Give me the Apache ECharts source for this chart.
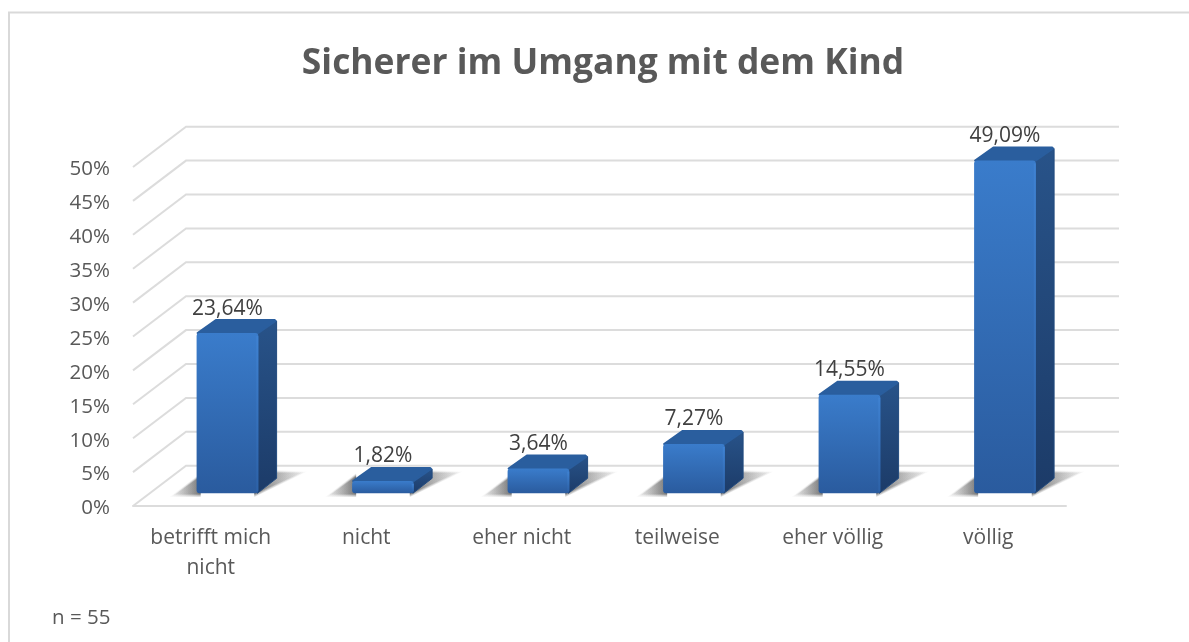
<!DOCTYPE html>
<html><head><meta charset="utf-8">
<style>html,body{margin:0;padding:0;background:#fff}#c{width:1189px;height:642px}</style>
<script src="https://cdn.jsdelivr.net/npm/echarts@6/dist/echarts.min.js"></script>
</head><body><div id="c"></div>
<script>
const categories = ['betrifft mich\nnicht','nicht','eher nicht','teilweise','eher völlig','völlig'];
const values = [23.64,1.82,3.64,7.27,14.55,49.09];
const valueLabels = ['23,64%','1,82%','3,64%','7,27%','14,55%','49,09%'];
const wallTicks = [0,5,10,15,20,25,30,35,40,45,50];

const FONT = '"Open Sans", sans-serif';
const WALL_DX = 53, WALL_DY = 40.3;
const BAR_SHIFT_X = 16.7, BAR_SHIFT_Y = 12.7, BAR_W = 61.7, DEPTH_X = 18.3, DEPTH_Y = 15;
const grad = (a,b)=>new echarts.graphic.LinearGradient(0,0,0,1,[{offset:0,color:a},{offset:1,color:b}]);
const hgrad = (a,b)=>new echarts.graphic.LinearGradient(0,0,1,0,[{offset:0,color:a},{offset:1,color:b}]);

function renderWall(params, api){
  const band = api.size([1,0])[0];
  const p = api.coord([0, api.value(1)]);
  const x0 = p[0]-band/2, y0 = p[1];
  const span = band*categories.length;
  const style = {stroke:'#dcdcdc', lineWidth:2, fill:null};
  return {type:'polyline', shape:{points:[[x0,y0],[x0+WALL_DX,y0-WALL_DY],[x0+WALL_DX+span,y0-WALL_DY]]}, style};
}
function renderShadow(params, api){
  const base = api.coord([api.value(0),0]);
  const x0 = base[0]+BAR_SHIFT_X-BAR_W/2, x1 = x0+BAR_W, y = base[1]-BAR_SHIFT_Y;
  const kids = [];
  // soft edge built from nested translucent wedges
  [[4,0.08],[3,0.09],[2,0.12],[1,0.15],[0,0.22]].forEach(([g,a])=>{
    kids.push({type:'polygon', shape:{points:[[x0-21-g*1.5,y+1+g*0.7],[x0+4,y+1+g*0.7],[x0+4,y-17-g*0.7]]},
      style:{fill:hgrad('rgba(130,130,130,'+(a*0.35)+')','rgba(50,50,50,'+(a*1.5)+')')}});
    kids.push({type:'polygon', shape:{points:[[x1-4,y+1+g*0.7],[x1+43+g*1.5,y-20.5-g*0.3],[x1+12,y-20.5-g*0.7],[x1-4,y-12]]},
      style:{fill:hgrad('rgba(50,50,50,'+(a*1.5)+')','rgba(130,130,130,'+(a*0.25)+')')}});
  });
  return {type:'group', children:kids};
}
function renderBar(params, api){
  const i = api.value(0), v = api.value(1);
  const base = api.coord([i,0]), top = api.coord([i,v]);
  const x0 = base[0]+BAR_SHIFT_X-BAR_W/2, x1 = x0+BAR_W;
  const yb = base[1]-BAR_SHIFT_Y, yt = top[1]-BAR_SHIFT_Y;
  const dx = DEPTH_X, dy = DEPTH_Y;
  return {type:'group', children:[
    {type:'polygon', shape:{points:[[x1-1,yt],[x1+dx,yt-dy+3],[x1+dx,yb-dy],[x1-1,yb]]},
      style:{fill:grad('#285389','#1c3b68'), stroke:'#224a7e', lineWidth:1, lineJoin:'round'}},
    {type:'polygon', shape:{points:[[x0+1,yt],[x0+dx+1,yt-dy+2],[x1+dx-2,yt-dy+2],[x1+dx-1,yt-dy+3],[x1,yt]]},
      style:{fill:'#2a5e9e', stroke:'#2a5e9e', lineWidth:2, lineJoin:'round'}},
    {type:'rect', shape:{x:x0,y:yt,width:BAR_W,height:yb-yt,r:3},
      style:{fill:grad('#3a7ccb','#2a5b9e')}},
    {type:'rect', shape:{x:x1-2,y:yt+3,width:2,height:yb-yt-5},
      style:{fill:grad('#3f82d2','#2d62a8')}},
    {type:'text', style:{x:(x0+x1)/2,y:yt-dy-9.5,text:valueLabels[i],font:'21px '+FONT,fill:'#404040',align:'center',verticalAlign:'middle'}}
  ]};
}

const chart = echarts.init(document.getElementById('c'),null,{renderer:'canvas'});
chart.setOption({
  backgroundColor:'#fff', animation:false,
  title:{text:'Sicherer im Umgang mit dem Kind',left:598,top:59,textAlign:'center',textVerticalAlign:'middle',
    textStyle:{fontFamily:FONT,fontSize:35.4,fontWeight:'bold',color:'#595959'}},
  graphic:[
    {type:'polyline',z:-1,shape:{points:[[9,642],[9,12.5],[1189,12.5]]},style:{fill:null,stroke:'#d9d9d9',lineWidth:2}},
    {type:'text',left:52,top:608,style:{text:'n = 55',font:'20.5px '+FONT,fill:'#595959'}}
  ],
  grid:{left:133,top:167,width:933,height:339},
  xAxis:{type:'category',data:categories,
    axisLine:{lineStyle:{color:'#dcdcdc',width:2}},axisTick:{show:false},splitLine:{show:false},
    axisLabel:{margin:17,lineHeight:30,fontFamily:FONT,fontSize:21,color:'#595959',interval:0}},
  yAxis:{type:'value',min:0,max:50,interval:5,
    axisLine:{show:false},axisTick:{show:false},splitLine:{show:false},
    axisLabel:{margin:23,verticalAlign:'top',lineHeight:5,formatter:'{value}%',fontFamily:FONT,fontSize:20.5,color:'#595959'}},
  series:[
    {type:'custom',name:'wall',clip:false,z:1,silent:true,renderItem:renderWall,data:wallTicks.map(t=>[0,t])},
    {type:'custom',name:'shadow',clip:false,z:2,silent:true,renderItem:renderShadow,data:values.map((v,i)=>[i,v])},
    {type:'custom',name:'Sicherer im Umgang mit dem Kind',clip:false,z:3,renderItem:renderBar,data:values.map((v,i)=>[i,v])}
  ]
});
</script></body></html>
